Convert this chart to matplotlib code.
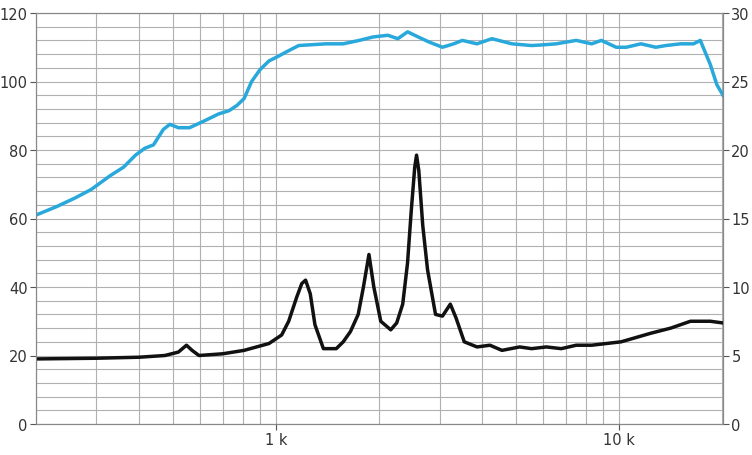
import matplotlib
matplotlib.use("Agg")
import matplotlib.pyplot as plt
from matplotlib.ticker import FixedLocator, NullFormatter
import numpy as np

spl_f = [200,230,260,290,329,360,390,415,440,470,491,520,560,619,680,731,770,808,850,900,955,1000,1090,1166,1300,1400,1572,1750,1920,2120,2267,2421,2600,2800,3059,3300,3496,3857,4263,4876,5563,6000,6566,7505,8325,8885,9814,10500,11590,12800,13700,15130,16500,17260,18450,19300,20100]
spl_db = [61,63.5,66,68.5,72.5,75,78.5,80.5,81.5,86,87.5,86.5,86.5,88.5,90.5,91.5,93,95,100,103.5,106,107,109,110.5,110.8,111,111,112,113,113.5,112.5,114.5,113,111.5,110,111,112,111,112.5,111,110.5,110.7,111,112,111,112,110,110,111,110,110.5,111,111,112,105,99,96]

imp_f = [200,300,400,475,520,549,570,597,700,808,955,1040,1090,1150,1190,1221,1260,1300,1376,1500,1572,1650,1738,1800,1868,1930,2022,2162,2250,2343,2420,2480,2540,2571,2610,2680,2768,2920,3059,3225,3350,3541,3857,4207,4561,5136,5563,6140,6790,7505,8325,10150,12380,14160,16160,18450,20100]
imp_left = [19,19.2,19.5,20,21,23,21.5,20,20.5,21.5,23.5,26,30,37,41,42,38,29,22,22,24,27,32,40,49.5,40,30,27.5,29.5,35,47,62,75,78.5,74,58,45,32,31.5,35,31,24,22.5,23,21.5,22.5,22,22.5,22,23,23,24,26.5,28,30,30,29.5]
imp_ohm = [v / 4 for v in imp_left]

fig = plt.figure(figsize=(7.52, 4.56), dpi=100)
ax = fig.add_axes([36/752, 1-425/456, (723-36)/752, (425-14)/456])
ax2 = ax.twinx()

ax.set_xscale("log")
ax.set_xlim(200, 20100)
ax.set_ylim(0, 120)
ax2.set_ylim(0, 30)

minor = [f for d in (100, 1000, 10000) for f in np.arange(2, 10) * d if 200 <= f <= 20000]
ax.xaxis.set_major_locator(FixedLocator([1000, 10000]))
ax.xaxis.set_minor_locator(FixedLocator(minor))
ax.xaxis.set_minor_formatter(NullFormatter())
ax.set_xticklabels(["1 k", "10 k"])
ax.set_yticks(range(0, 121, 20))
ax.set_yticks(range(0, 121, 4), minor=True)
ax2.set_yticks(range(0, 31, 5))

ax.grid(True, which="both", color="#b0b0b0", lw=0.8)
ax.set_axisbelow(True)
for a in (ax, ax2):
    for s in a.spines.values():
        s.set_color("#888888")
        s.set_linewidth(0.8)
    a.tick_params(which="both", colors="#555555", labelcolor="#333333", labelsize=10.5, length=4, pad=2)
ax.tick_params(axis="y", which="minor", length=0)
ax.tick_params(axis="x", which="minor", length=0)

ax.plot(spl_f, spl_db, color="#29a8dc", lw=2.5)
ax2.plot(imp_f, imp_ohm, color="#111111", lw=2.5)

fig.savefig("out.png", dpi=100)
